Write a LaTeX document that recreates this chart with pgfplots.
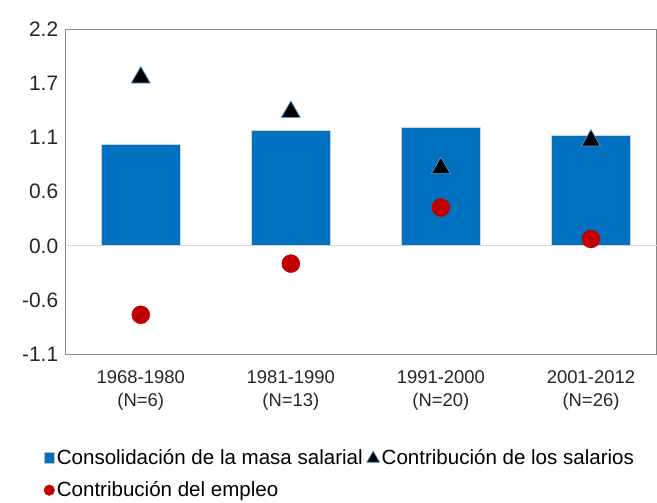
\documentclass[border=0pt]{standalone}
\usepackage{pgfplots}
\pgfplotsset{compat=1.18}
\usepackage{fontspec}
\setmainfont{Liberation Sans}
\definecolor{barblue}{RGB}{0,112,192}
\definecolor{dotred}{RGB}{192,0,0}
\definecolor{triedge}{RGB}{91,155,213}
\definecolor{framegray}{RGB}{134,134,134}
\pgfplotsset{
  barleg/.style={legend image code/.code={\draw[fill=barblue, draw=gray!50, line width=0.5bp] (0bp,-5.3bp) rectangle (10.6bp,5.3bp);}},
  trileg/.style={legend image code/.code={\draw[##1, mark size=7.5bp] plot coordinates {(7bp,-1bp)};}},
  dotleg/.style={legend image code/.code={\draw[##1, mark size=5.3bp] plot coordinates {(5.3bp,0bp)};}},
}
\begin{document}
\begin{tikzpicture}
\begin{axis}[
  name=ax,
  scale only axis,
  width=591bp, height=324.7bp,
  xmin=-0.5, xmax=3.44,
  ymin=-1.1, ymax=2.2,
  axis line style={framegray, line width=1.2bp},
  major tick length=0pt,
  ytick={-1.1,-0.55,0,0.55,1.1,1.65,2.2},
  yticklabels={-1.1,-0.6,0.0,0.6,1.1,1.7,2.2},
  yticklabel style={font=\fontsize{21}{24}\selectfont, text=black!85, xshift=-4bp},
  xtick={0,1,2,3},
  xticklabels={1968-1980\\(N=6),1981-1990\\(N=13),1991-2000\\(N=20),2001-2012\\(N=26)},
  xticklabel style={font=\fontsize{18.5}{23}\selectfont, align=center, text=black!85, yshift=-13bp},
  extra y ticks={0},
  extra y tick labels={},
  extra y tick style={grid=major, major grid style={gray!30, line width=1.2bp}},
  legend columns=2,
  legend cell align=left,
  legend style={at={(-0.0375,-0.286)}, anchor=north west, draw=none, fill=none,
    font=\fontsize{20.6}{24}\selectfont, inner sep=0pt, row sep=12bp,
    /tikz/every even column/.append style={column sep=2bp}},
]
\addplot[ybar, bar width=0.527, bar shift=0pt, fill=barblue, draw=gray!35, line width=0.8bp, barleg]
  coordinates {(0,1.03) (1,1.17) (2,1.20) (3,1.12)};
\addlegendentry{Consolidación de la masa salarial}
\addplot[only marks, mark=triangle*, mark size=11bp, mark options={fill=black, draw=triedge, line width=0.7bp}, trileg]
  coordinates {(0,1.71) (1,1.36) (2,0.79) (3,1.07)};
\addlegendentry{Contribución de los salarios}
\addplot[only marks, mark=*, mark size=9bp, mark options={fill=dotred, draw=dotred}, dotleg]
  coordinates {(0,-0.70) (1,-0.18) (2,0.39) (3,0.07)};
\addlegendentry{Contribución del empleo}
\end{axis}
\pgfresetboundingbox
\path ([shift={(-65.7bp,-148bp)}]ax.south west) rectangle ([shift={(0bp,29.3bp)}]ax.north east);
\end{tikzpicture}
\end{document}
